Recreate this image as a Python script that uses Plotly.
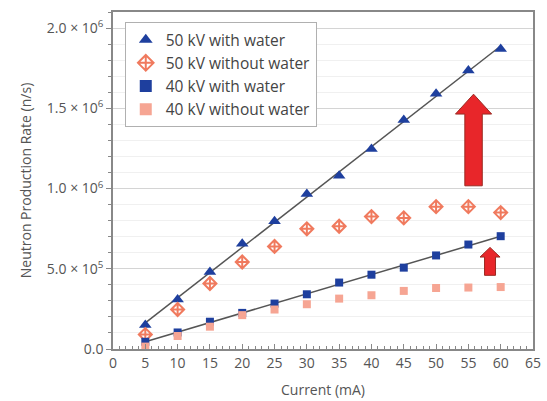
import numpy as np
import plotly.graph_objects as go

# Tube current (mA)
current = [5, 10, 15, 20, 25, 30, 35, 40, 45, 50, 55, 60]

# Neutron production rate (n/s)
kv50_water = [1.5e5, 3.08e5, 4.8e5, 6.56e5, 7.96e5, 9.66e5, 1.08e6, 1.247e6, 1.427e6, 1.59e6, 1.735e6, 1.87e6]
kv50_dry = [0.9e5, 2.46e5, 4.08e5, 5.42e5, 6.39e5, 7.49e5, 7.65e5, 8.25e5, 8.17e5, 8.87e5, 8.87e5, 8.5e5]
kv40_water = [0.45e5, 1.03e5, 1.7e5, 2.25e5, 2.83e5, 3.41e5, 4.14e5, 4.63e5, 5.07e5, 5.83e5, 6.51e5, 7.03e5]
kv40_dry = [0.15e5, 0.81e5, 1.39e5, 2.11e5, 2.46e5, 2.79e5, 3.14e5, 3.35e5, 3.62e5, 3.8e5, 3.83e5, 3.86e5]

y_tickvals = [0, 5e5, 1e6, 1.5e6, 2e6]
y_ticktext = ["0.0", "5.0 × 10<sup>5</sup>", "1.0 × 10<sup>6</sup>",
              "1.5 × 10<sup>6</sup>", "2.0 × 10<sup>6</sup>"]
x_tickvals = list(range(0, 70, 5))

# Arrows showing the gain from water: (x centre, tail y, head-base y, tip y, shaft half-width, head half-width)
arrows = [
    (55.8, 1.017e6, 1.464e6, 1.588e6, 1.35, 2.8),
    (58.35, 0.459e6, 0.573e6, 0.633e6, 0.85, 1.55),
]

BLUE = "#1e3f9e"
SALMON = "#f07a5e"
LIGHT_SALMON = "#f6a593"
FONT = "Open Sans"
TXT = "#555555"

fig = go.Figure()

# Linear fits through the with-water series
for ys in (kv50_water, kv40_water):
    k, b = np.polyfit(current, ys, 1)
    xf = np.array([current[0], current[-1]])
    fig.add_trace(go.Scatter(x=xf, y=k * xf + b, mode="lines",
                             line=dict(color="#555555", width=1.5),
                             showlegend=False, hoverinfo="skip"))

fig.add_trace(go.Scatter(x=current, y=kv50_water, mode="markers", name="50 kV with water",
                         marker=dict(symbol="triangle-up", size=11, color=BLUE)))
fig.add_trace(go.Scatter(x=current, y=kv50_dry, mode="markers", name="50 kV without water",
                         marker=dict(symbol="diamond-cross-open", size=10, color=SALMON,
                                     line=dict(width=2, color=SALMON))))
fig.add_trace(go.Scatter(x=current, y=kv40_water, mode="markers", name="40 kV with water",
                         marker=dict(symbol="square", size=8, color=BLUE)))
fig.add_trace(go.Scatter(x=current, y=kv40_dry, mode="markers", name="40 kV without water",
                         marker=dict(symbol="square", size=8, color=LIGHT_SALMON)))

for xc, y0, yb, yt, sw, hw in arrows:
    path = (f"M {xc - sw} {y0} L {xc - sw} {yb} L {xc - hw} {yb} L {xc} {yt} "
            f"L {xc + hw} {yb} L {xc + sw} {yb} L {xc + sw} {y0} Z")
    fig.add_shape(type="path", path=path, xref="x", yref="y",
                  fillcolor="#e8262a", line=dict(color="#9a2a22", width=1))

fig.update_layout(
    width=547, height=401,
    margin=dict(l=113, r=12, t=12, b=52),
    paper_bgcolor="white", plot_bgcolor="white",
    font=dict(family=FONT, size=14, color=TXT),
    legend=dict(x=0.028, y=0.97, xanchor="left", yanchor="top",
                bordercolor="#b0b0b0", borderwidth=1, bgcolor="white",
                font=dict(family=FONT, size=15.5, color="#444444"),
                tracegroupgap=2, itemsizing="constant"),
    xaxis=dict(range=[0, 65], tickvals=x_tickvals, ticks="inside", ticklen=5,
               tickcolor="#888888", showline=True, linecolor="#888888", linewidth=1.5,
               mirror=True, showgrid=False, zeroline=False, automargin=False,
               minor=dict(dtick=1, ticks="inside", ticklen=3, tickcolor="#888888"),
               title=dict(text="Current (mA)", font=dict(size=14, color=TXT), standoff=15),
               tickfont=dict(size=14, color=TXT)),
    yaxis=dict(range=[0, 2.1e6], tickvals=y_tickvals, ticktext=y_ticktext,
               ticks="outside", ticklen=5, tickcolor="#888888",
               showline=True, linecolor="#888888", linewidth=1.5, mirror=True,
               showgrid=True, gridcolor="#d4d4d4", zeroline=False,
               minor=dict(dtick=1e5, ticks="outside", ticklen=3, tickcolor="#888888",
                          showgrid=True, gridcolor="#f0f0f0"),
               title=dict(text="Neutron Production Rate (n/s)",
                          font=dict(size=14, color=TXT), standoff=12),
               tickfont=dict(size=14, color=TXT)),
)

fig.write_html("out.html")
